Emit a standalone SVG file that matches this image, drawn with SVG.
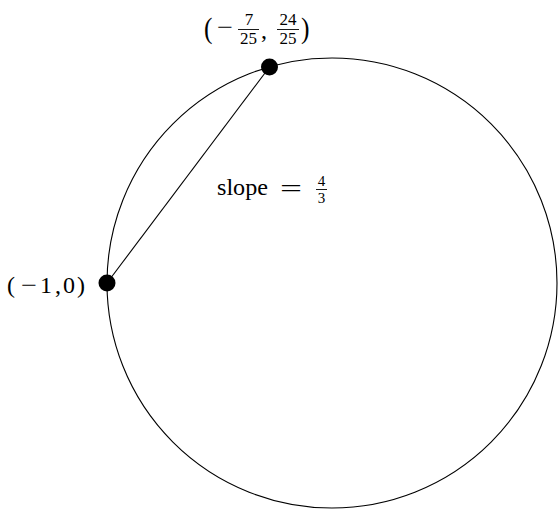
<svg xmlns="http://www.w3.org/2000/svg" width="558" height="509" viewBox="0 0 558 509">
<style>
.t{font-family:"Liberation Serif","Times New Roman",serif;fill:#000}
.m{font-size:24px}
.f{font-size:17px}
.s{font-size:15px}
.bar{stroke:#000;stroke-width:0.9}
</style>
<rect width="558" height="509" fill="#fff"/>
<g id="circle"><circle cx="332" cy="283" r="225" fill="none" stroke="#000" stroke-width="1.1"/></g>
<g id="connectors"><line x1="107" y1="283" x2="269.5" y2="67" stroke="#000" stroke-width="1.1"/></g>
<g id="pointA">
<circle cx="107" cy="283" r="8.5" fill="#000"/>
<text class="t m" x="7" y="293">(</text>
<text class="t m" x="21" y="293" textLength="16" lengthAdjust="spacingAndGlyphs">−</text>
<text class="t m" x="40" y="293">1</text>
<text class="t m" x="55" y="293">,</text>
<text class="t m" x="63" y="293">0</text>
<text class="t m" x="77" y="293">)</text>
</g>
<g id="pointB">
<circle cx="269.5" cy="67" r="8.5" fill="#000"/>
<text class="t" x="204" y="38" font-size="30" transform="translate(204 38) scale(0.85 1) translate(-204 -38)">(</text>
<text class="t m" x="217" y="35" textLength="16" lengthAdjust="spacingAndGlyphs">−</text>
<text class="t f" x="249" y="25" text-anchor="middle">7</text>
<line class="bar" x1="238" y1="29.5" x2="259" y2="29.5"/>
<text class="t f" x="248.5" y="44" text-anchor="middle">25</text>
<text class="t m" x="261" y="38">,</text>
<text class="t f" x="288" y="25" text-anchor="middle">24</text>
<line class="bar" x1="277" y1="29.5" x2="299" y2="29.5"/>
<text class="t f" x="288" y="44" text-anchor="middle">25</text>
<text class="t" x="301" y="38" font-size="30" transform="translate(301 38) scale(0.85 1) translate(-301 -38)">)</text>
</g>
<g id="slope">
<text class="t" font-size="23" x="217" y="195" textLength="51" lengthAdjust="spacingAndGlyphs">slope</text>
<text class="t m" x="280" y="196" textLength="22" lengthAdjust="spacingAndGlyphs">=</text>
<text class="t s" x="321.5" y="186" text-anchor="middle">4</text>
<line class="bar" x1="316" y1="189.5" x2="327" y2="189.5"/>
<text class="t s" x="321.5" y="203" text-anchor="middle">3</text>
</g>
</svg>
